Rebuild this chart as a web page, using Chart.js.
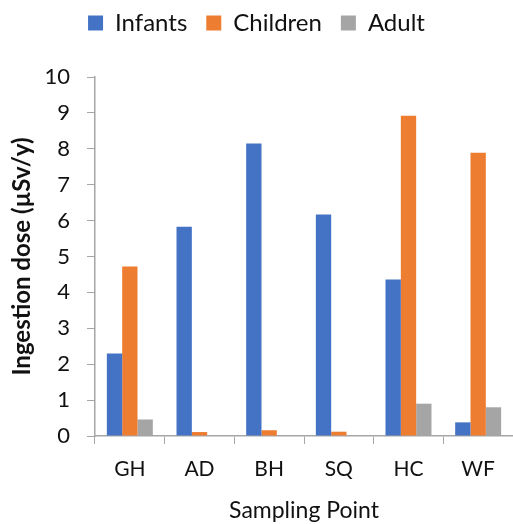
<!DOCTYPE html>
<html>
<head>
<meta charset="utf-8">
<script src="https://cdn.jsdelivr.net/npm/chart.js@4/dist/chart.umd.min.js"></script>
<style>
  html, body { margin: 0; padding: 0; background: #ffffff; }
  #wrap { width: 513px; height: 524px; position: relative; }
</style>
</head>
<body>
<div id="wrap"><canvas id="c"></canvas></div>
<script>
// Sampling points along the x axis
const samplingPoints = ['GH', 'AD', 'BH', 'SQ', 'HC', 'WF'];

// Annual ingestion dose per age group (µSv/y)
const infants  = [2.30, 5.83, 8.15, 6.17, 4.36, 0.38];
const children = [4.72, 0.11, 0.16, 0.12, 8.92, 7.89];
const adult    = [0.46, 0.02, 0.02, 0.02, 0.90, 0.80];

// Dose axis range and step
const yMin = 0;
const yMax = 10;
const yStep = 1;

const FONT = 'Lato, "Open Sans", "DejaVu Sans", sans-serif';
const AXIS_GREY = '#a6a6a6';

// Fixed legend band height so the plot starts at the same place every time
const legendBand = {
  id: 'legendBand',
  afterInit(chart) {
    const lg = chart.legend;
    if (!lg) return;
    const fit = lg.fit.bind(lg);
    lg.fit = function () {
      fit();
      this.height = 85;
    };
  }
};

new Chart(document.getElementById('c'), {
  type: 'bar',
  data: {
    labels: samplingPoints,
    datasets: [
      { label: 'Infants',  data: infants,  backgroundColor: '#4472C4' },
      { label: 'Children', data: children, backgroundColor: '#ED7D31' },
      { label: 'Adult',    data: adult,    backgroundColor: '#A5A5A5' }
    ]
  },
  plugins: [legendBand],
  options: {
    responsive: true,
    maintainAspectRatio: false,
    animation: false,
    devicePixelRatio: 1,
    layout: { padding: { top: -8, left: 0, right: 0, bottom: 0 } },
    datasets: {
      bar: { barPercentage: 1.0, categoryPercentage: 0.66, borderWidth: 0 }
    },
    plugins: {
      legend: {
        position: 'top',
        align: 'center',
        labels: {
          boxWidth: 15,
          boxHeight: 15,
          padding: 19,
          color: '#111111',
          font: { family: FONT, size: 24 }
        }
      },
      tooltip: { enabled: false }
    },
    scales: {
      x: {
        offset: true,
        grid: {
          display: true,
          offset: true,
          drawOnChartArea: false,
          drawTicks: true,
          tickLength: 8,
          color: AXIS_GREY,
          lineWidth: 1
        },
        border: { display: true, color: AXIS_GREY, width: 1.5 },
        ticks: {
          color: '#111111',
          padding: 13,
          font: { family: FONT, size: 21 }
        },
        title: {
          display: true,
          text: 'Sampling Point',
          color: '#111111',
          padding: { top: 0, bottom: 0 },
          font: { family: FONT, size: 23 }
        },
        afterFit(scale) { scale.height = 88; }
      },
      y: {
        min: yMin,
        max: yMax,
        grid: {
          display: true,
          drawOnChartArea: false,
          drawTicks: true,
          tickLength: 8,
          color: AXIS_GREY,
          lineWidth: 1
        },
        border: { display: true, color: AXIS_GREY, width: 1.5 },
        ticks: {
          stepSize: yStep,
          color: '#111111',
          padding: 17,
          font: { family: FONT, size: 22 }
        },
        title: {
          display: true,
          text: 'Ingestion dose (µSv/y)',
          color: '#111111',
          padding: { top: 8, bottom: 0 },
          font: { family: FONT, size: 24, weight: 'bold' }
        },
        afterFit(scale) { scale.width = 95; }
      }
    }
  }
});
</script>
</body>
</html>
